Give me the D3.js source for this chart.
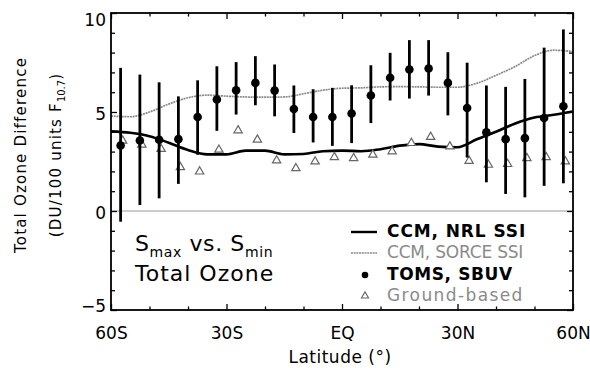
<!DOCTYPE html>
<html>
<head>
<meta charset="utf-8">
<script src="https://cdn.jsdelivr.net/npm/d3@7/dist/d3.min.js"></script>
<style>
  html, body { margin: 0; padding: 0; background: #fff; overflow: hidden; }
  svg { display: block; font-family: 'DejaVu Sans', sans-serif; }
</style>
</head>
<body>
<script>
'use strict';

// latitude bins of the observations (5 deg bins)
const obsLats = [-57.5, -52.5, -47.5, -42.5, -37.5, -32.5, -27.5, -22.5, -17.5, -12.5, -7.5, -2.5,
  2.5, 7.5, 12.5, 17.5, 22.5, 27.5, 32.5, 37.5, 42.5, 47.5, 52.5, 57.5];
// TOMS, SBUV mean and range
const tomsMean = [3.31, 3.56, 3.60, 3.63, 4.75, 5.63, 6.10, 6.47, 6.08, 5.15, 4.75, 4.75,
  4.92, 5.83, 6.73, 7.15, 7.20, 6.47, 5.20, 3.97, 3.63, 3.68, 4.70, 5.29];
const tomsLow = [-0.54, 0.30, 0.64, 1.37, 2.84, 4.05, 4.87, 5.34, 4.78, 3.94, 3.46, 3.29,
  3.43, 4.44, 5.58, 5.68, 5.83, 4.83, 2.70, 1.45, 0.86, 0.69, 1.27, 1.40];
const tomsHigh = [7.23, 6.89, 6.50, 5.79, 6.60, 7.31, 7.52, 7.82, 7.40, 6.34, 6.15, 6.22,
  6.35, 7.36, 7.99, 8.63, 8.63, 8.02, 7.49, 6.34, 6.27, 6.67, 8.25, 9.17];
// ground-based
const groundVals = [3.55, 3.35, 3.13, 2.21, 1.99, 3.09, 4.07, 3.60, 2.55, 2.16, 2.50, 2.72,
  2.67, 2.84, 3.01, 3.43, 3.74, 3.26, 2.53, 2.33, 2.37, 2.67, 2.72, 2.50];

// model latitudes
const modelLats = [-60, -55, -50, -45, -40, -35, -30, -25, -20, -15, -10, -5, 0,
  5, 10, 15, 20, 25, 30, 35, 40, 45, 50, 55, 60];
const nrlVals = [4.02, 3.95, 3.78, 3.45, 3.08, 2.86, 2.86, 3.05, 3.05, 2.86, 2.88, 3.02, 3.05,
  3.02, 3.12, 3.30, 3.38, 3.25, 3.22, 3.62, 4.00, 4.42, 4.72, 4.86, 5.03];
const sorceVals = [4.80, 4.76, 5.00, 5.40, 5.72, 5.85, 5.80, 5.76, 5.75, 5.76, 5.92, 6.10, 6.20,
  6.22, 6.27, 6.28, 6.27, 6.25, 6.25, 6.45, 6.85, 7.30, 7.85, 8.12, 8.05];

const xTicks = [-60, -30, 0, 30, 60];
const xTickLabels = ['60S', '30S', 'EQ', '30N', '60N'];
const xMinor = [-50, -40, -20, -10, 10, 20, 40, 50];
const yTicks = [-5, 0, 5, 10];
const yMinor = [-4, -3, -2, -1, 1, 2, 3, 4, 6, 7, 8, 9];

const legendLabels = ['CCM, NRL SSI', 'CCM, SORCE SSI', 'TOMS, SBUV', 'Ground-based'];

const W = 590, H = 368;
const L = 111, R = 573, T = 13, B = 310;
const grey = '#8a8a8a';

const svg = d3.select('body').append('svg').attr('width', W).attr('height', H);

const x = d3.scaleLinear().domain([-60, 60]).range([L, R]);
const y = d3.scaleLinear().domain([-5, 10]).range([B, T]);

// zero line
svg.append('line')
    .attr('x1', L).attr('x2', R)
    .attr('y1', y(0)).attr('y2', y(0))
    .attr('stroke', '#999').attr('stroke-width', 1);

// ticks (inward on all four sides)
function tickAxis(axis, tx, ty) {
  const g = svg.append('g').attr('transform', `translate(${tx},${ty})`).call(axis);
  g.select('.domain').remove();
  g.selectAll('text').remove();
  g.selectAll('line').attr('stroke', '#000').attr('stroke-width', 1.3);
}
tickAxis(d3.axisBottom(x).tickValues(xTicks).tickSize(-6), 0, B);
tickAxis(d3.axisBottom(x).tickValues(xMinor).tickSize(-3.5), 0, B);
tickAxis(d3.axisTop(x).tickValues(xTicks).tickSize(-6), 0, T);
tickAxis(d3.axisTop(x).tickValues(xMinor).tickSize(-3.5), 0, T);
tickAxis(d3.axisLeft(y).tickValues(yTicks).tickSize(-6), L, 0);
tickAxis(d3.axisLeft(y).tickValues(yMinor).tickSize(-4), L, 0);
tickAxis(d3.axisRight(y).tickValues(yTicks).tickSize(-6), R, 0);
tickAxis(d3.axisRight(y).tickValues(yMinor).tickSize(-4), R, 0);

// tick labels
const xl = svg.append('g').attr('transform', `translate(0,${B})`)
    .call(d3.axisBottom(x).tickValues(xTicks).tickSize(0).tickPadding(17)
      .tickFormat((d, i) => xTickLabels[i]));
xl.select('.domain').remove();
xl.selectAll('text').attr('font-family', 'DejaVu Sans').attr('font-size', 17).attr('fill', '#000');

const yl = svg.append('g').attr('transform', `translate(${L},0)`)
    .call(d3.axisLeft(y).tickValues(yTicks).tickSize(0).tickPadding(5)
      .tickFormat(d => d < 0 ? '\u2212' + Math.abs(d) : d));
yl.select('.domain').remove();
yl.selectAll('text').attr('font-family', 'DejaVu Sans').attr('font-size', 17).attr('fill', '#000')
    .attr('dy', d => d === 10 ? '0.73em' : d === -5 ? '0.09em' : '0.44em');

// model lines
const modelLine = d3.line().x(d => x(d[0])).y(d => y(d[1])).curve(d3.curveMonotoneX);

svg.append('path')
    .datum(modelLats.map((v, i) => [v, sorceVals[i]]))
    .attr('d', modelLine)
    .attr('fill', 'none').attr('stroke', grey).attr('stroke-width', 1.7)
    .attr('stroke-dasharray', '2,0.7');

svg.append('path')
    .datum(modelLats.map((v, i) => [v, nrlVals[i]]))
    .attr('d', modelLine)
    .attr('fill', 'none').attr('stroke', '#000').attr('stroke-width', 2.6);

// ground-based triangles
const tri = d3.symbol().type(d3.symbolTriangle).size(30);
svg.append('g').selectAll('path').data(obsLats).enter().append('path')
    .attr('transform', (d, i) => `translate(${x(d) + 2},${y(groundVals[i])})`)
    .attr('d', tri)
    .attr('fill', '#fff').attr('stroke', '#666').attr('stroke-width', 1.2);

// TOMS error bars and dots
const obs = svg.append('g');
obs.selectAll('line').data(obsLats).enter().append('line')
    .attr('x1', d => x(d)).attr('x2', d => x(d))
    .attr('y1', (d, i) => y(tomsLow[i])).attr('y2', (d, i) => y(tomsHigh[i]))
    .attr('stroke', '#000').attr('stroke-width', 2.8);
obs.selectAll('circle').data(obsLats).enter().append('circle')
    .attr('cx', d => x(d)).attr('cy', (d, i) => y(tomsMean[i]))
    .attr('r', 4.3).attr('fill', '#000');

// frame
svg.append('rect')
    .attr('x', L).attr('y', T).attr('width', R - L).attr('height', B - T)
    .attr('fill', 'none').attr('stroke', '#000').attr('stroke-width', 1.8);

// legend
const lg = svg.append('g');
const rowY = [232, 253, 275, 296];
const rowSpacing = [0.9, -0.2, 0.6, 1.4];
legendLabels.forEach((lab, i) => {
  const g = lg.append('g').attr('transform', `translate(0,${rowY[i]})`);
  if (i === 0) {
    g.append('line').attr('x1', 351).attr('x2', 377).attr('stroke', '#000').attr('stroke-width', 2.4);
  } else if (i === 1) {
    g.append('line').attr('x1', 351).attr('x2', 377).attr('stroke', grey).attr('stroke-width', 1.6)
        .attr('stroke-dasharray', '2,0.7');
  } else if (i === 2) {
    g.append('circle').attr('cx', 365).attr('cy', 0).attr('r', 3.3).attr('fill', '#000');
  } else {
    g.append('path').attr('transform', 'translate(365,0)')
        .attr('d', d3.symbol().type(d3.symbolTriangle).size(22))
        .attr('fill', '#fff').attr('stroke', '#666').attr('stroke-width', 1.1);
  }
  g.append('text')
      .attr('x', 387).attr('y', 5)
      .attr('font-size', 17)
      .attr('font-weight', i % 2 === 0 ? 'bold' : 'normal')
      .attr('fill', i % 2 === 0 ? '#000' : grey)
      .attr('letter-spacing', rowSpacing[i])
      .text(lab);
});

// annotation
const ann = svg.append('text').attr('x', 135).attr('y', 251)
    .attr('font-size', 22).attr('letter-spacing', 0.6).attr('fill', '#000');
ann.append('tspan').text('S');
ann.append('tspan').attr('font-size', 14).attr('dy', 6).text('max');
ann.append('tspan').attr('dy', -6).text(' vs. S');
ann.append('tspan').attr('font-size', 14).attr('dy', 6).text('min');
svg.append('text').attr('x', 135).attr('y', 280.5)
    .attr('font-size', 22).attr('letter-spacing', 1).attr('fill', '#000')
    .text('Total Ozone');

// axis titles
svg.append('text')
    .attr('x', (L + R) / 2 - 2).attr('y', 362.5)
    .attr('text-anchor', 'middle').attr('font-size', 17).attr('letter-spacing', 0.5)
    .text('Latitude (\u00b0)');

svg.append('text')
    .attr('transform', 'translate(26,155) rotate(-90)')
    .attr('text-anchor', 'middle').attr('font-size', 15).attr('letter-spacing', 1.2)
    .text('Total Ozone Difference');

const yt2 = svg.append('text')
    .attr('transform', 'translate(61,155) rotate(-90)')
    .attr('text-anchor', 'middle').attr('font-size', 15).attr('letter-spacing', 1.2);
yt2.append('tspan').text('(DU/100 units F');
yt2.append('tspan').attr('font-size', 10).attr('dy', 4).attr('letter-spacing', 0).text('10.7');
yt2.append('tspan').attr('dy', -4).text(')');
</script>
</body>
</html>
